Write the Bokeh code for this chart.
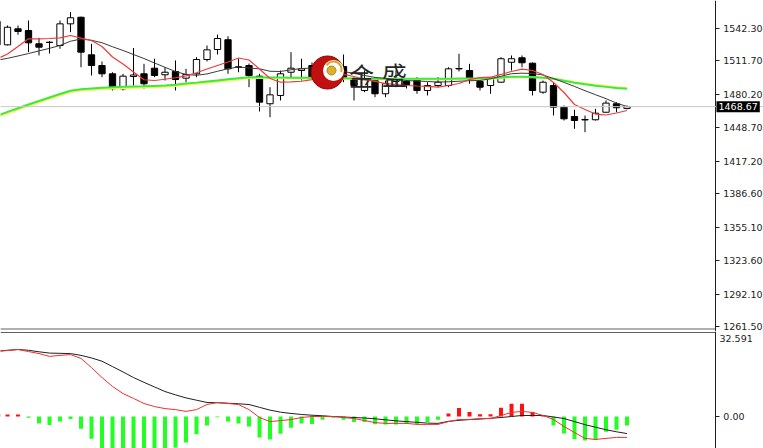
from bokeh.plotting import figure
from bokeh.layouts import column
from bokeh.models import FixedTicker, Range1d, Span, Label, PrintfTickFormatter, LinearAxis
from bokeh.core.properties import value
from bokeh.embed import file_html
from bokeh.resources import INLINE

# ---------------- data ----------------
# bar index -1 is the bar that is cut off at the left edge
bar = list(range(-1, 60))
open_ = [1527.0,
         1526.9, 1542.0, 1540.4, 1527.9, 1529.4, 1526.3, 1546.7, 1552.9, 1517.5, 1507.4,
         1499.6, 1485.5, 1497.1, 1499.6, 1504.9, 1498.7, 1501.8, 1495.5, 1499.6, 1513.1,
         1522.5, 1531.7, 1506.2, 1507.4, 1497.4, 1471.4, 1479.2, 1501.1, 1502.7, 1507.4,
         1497.1, 1502.7, 1506.5, 1494.0, 1483.9, 1493.3, 1480.8, 1492.4, 1492.4, 1494.0,
         1483.9, 1488.6, 1488.6, 1504.6, 1502.7, 1492.4, 1488.6, 1491.7, 1510.5, 1514.7,
         1509.6, 1482.3, 1488.6, 1468.2, 1459.4, 1456.6, 1456.3, 1463.4, 1471.4, 1467.0]
close = [1549.0,
         1543.5, 1539.5, 1528.8, 1524.7, 1529.1, 1546.7, 1552.4, 1520.0, 1507.4, 1499.6,
         1485.5, 1497.4, 1498.5, 1490.2, 1498.0, 1501.1, 1494.2, 1499.0, 1513.1, 1522.2,
         1532.9, 1504.3, 1505.6, 1498.0, 1472.9, 1479.8, 1499.6, 1504.9, 1504.3, 1496.4,
         1502.7, 1499.0, 1496.4, 1488.6, 1494.0, 1480.8, 1490.2, 1494.9, 1489.3, 1483.9,
         1488.6, 1491.7, 1504.3, 1504.2, 1495.2, 1487.0, 1495.5, 1513.8, 1513.8, 1510.0,
         1483.9, 1491.7, 1468.2, 1457.2, 1455.6, 1456.1, 1462.5, 1472.0, 1467.6, 1468.67]
high = [1551.0,
        1545.1, 1545.1, 1549.8, 1533.5, 1530.5, 1549.8, 1557.7, 1553.5, 1527.9, 1511.2,
        1501.1, 1499.6, 1523.9, 1509.0, 1513.8, 1505.8, 1512.2, 1504.3, 1515.3, 1526.3,
        1536.6, 1535.0, 1513.8, 1509.3, 1499.6, 1487.0, 1502.7, 1520.0, 1513.8, 1510.3,
        1509.3, 1510.3, 1517.8, 1496.4, 1502.7, 1496.4, 1493.3, 1502.7, 1495.2, 1496.4,
        1491.7, 1496.4, 1505.8, 1518.5, 1509.0, 1494.2, 1496.4, 1515.3, 1516.9, 1516.9,
        1510.3, 1493.3, 1491.7, 1469.8, 1465.7, 1460.3, 1466.6, 1474.5, 1472.9, 1469.8]
low = [1525.0,
       1526.3, 1536.4, 1520.0, 1516.9, 1518.7, 1523.2, 1538.8, 1505.8, 1498.0, 1496.4,
       1483.9, 1483.9, 1488.6, 1485.5, 1496.4, 1493.3, 1483.9, 1491.7, 1496.4, 1511.2,
       1517.8, 1499.6, 1501.1, 1487.0, 1464.1, 1458.7, 1474.5, 1496.4, 1493.3, 1495.2,
       1493.3, 1494.2, 1491.7, 1474.5, 1482.3, 1477.6, 1477.6, 1487.0, 1485.8, 1480.8,
       1479.2, 1487.0, 1487.0, 1501.8, 1490.2, 1483.9, 1480.8, 1491.1, 1502.7, 1505.8,
       1479.2, 1480.8, 1460.3, 1455.6, 1447.8, 1444.6, 1455.6, 1463.4, 1463.4, 1466.1]

ma_fast = [1513.6,
           1518.3, 1525.3, 1532.6, 1532.6, 1532.9, 1533.5, 1535.7, 1533.3, 1531.0, 1525.3,
           1515.4, 1508.9, 1501.3, 1494.0, 1493.3, 1494.5, 1495.9, 1497.7, 1500.6, 1504.1,
           1507.4, 1510.7, 1514.5, 1512.6, 1504.1, 1495.2, 1491.7, 1492.1, 1492.6, 1494.2,
           1497.1, 1498.0, 1499.0, 1497.1, 1494.2, 1492.4, 1490.5, 1489.5, 1488.6, 1488.1,
           1487.7, 1487.0, 1488.6, 1490.5, 1494.2, 1496.1, 1496.4, 1499.0, 1501.8, 1504.1,
           1502.7, 1499.0, 1491.4, 1482.0, 1470.7, 1466.0, 1461.7, 1460.8, 1462.7, 1465.0]
ma_mid = [1512.4,
          1514.2, 1516.4, 1518.7, 1521.2, 1523.6, 1526.3, 1530.3, 1532.4, 1531.2, 1528.9,
          1525.1, 1521.6, 1517.8, 1514.0, 1509.8, 1505.7, 1501.8, 1499.0, 1498.2, 1499.5,
          1502.0, 1504.4, 1506.0, 1505.1, 1504.3, 1502.0, 1501.8, 1503.4, 1504.6, 1505.0,
          1504.1, 1502.9, 1501.8, 1500.0, 1498.0, 1496.2, 1495.3, 1494.3, 1493.3, 1492.8,
          1492.4, 1491.8, 1492.1, 1492.6, 1493.1, 1493.3, 1494.9, 1497.3, 1499.7, 1500.2,
          1499.9, 1498.5, 1495.2, 1491.5, 1487.7, 1483.7, 1479.9, 1476.2, 1472.0, 1468.8]
ma_slow = [1460.0,
           1463.7, 1467.2, 1470.7, 1474.0, 1477.3, 1480.6, 1483.7, 1485.1, 1485.8, 1486.5,
           1486.9, 1487.3, 1487.7, 1487.9, 1488.2, 1488.5, 1489.3, 1490.4, 1491.3, 1492.4,
           1493.4, 1494.4, 1495.4, 1496.3, 1496.3, 1496.2, 1496.1, 1496.0, 1495.9, 1495.8,
           1495.7, 1495.5, 1495.4, 1495.2, 1495.0, 1494.9, 1494.9, 1494.9, 1494.9, 1494.9,
           1494.9, 1494.9, 1495.0, 1495.1, 1495.2, 1495.3, 1495.5, 1496.1, 1496.9, 1496.9,
           1496.6, 1496.0, 1494.9, 1493.0, 1491.2, 1489.7, 1488.4, 1487.3, 1486.2, 1485.6]
ma_slow2 = [1458.8,
            1462.5, 1466.0, 1469.5, 1472.8, 1476.1, 1479.4, 1482.5, 1483.9, 1484.6, 1485.3,
            1485.7, 1486.1, 1486.5, 1486.7, 1487.0, 1487.3, 1488.1, 1489.2, 1490.1, 1491.2,
            1492.2, 1493.2, 1494.2, 1495.6, 1495.7, 1495.6, 1495.5, 1495.4, 1495.3, 1495.2,
            1495.1, 1495.0, 1494.9, 1494.7, 1494.5, 1494.4, 1494.4, 1494.4, 1494.4, 1494.4,
            1494.4, 1494.4, 1494.5, 1494.6, 1494.7, 1494.8, 1495.0, 1495.6, 1496.4, 1496.4,
            1496.3, 1495.9, 1495.0, 1493.5, 1491.9, 1490.5, 1489.2, 1488.1, 1487.0, 1486.3]

macd_hist = [0.8,
             0.8, 0.8, -0.5, -2.7, -3.3, -2.0, -1.0, -4.8, -8.7, -14.0,
             -16.0, -17.0, -17.5, -17.0, -16.0, -14.5, -12.2, -10.2, -7.0, -3.5,
             -0.3, -2.0, -2.7, -3.9, -8.2, -9.0, -6.8, -4.4, -2.7, -2.9,
             -1.3, -0.5, -1.3, -2.2, -2.2, -3.0, -3.1, -3.1, -2.9, -2.9,
             -2.2, -1.3, 1.2, 3.3, 1.8, 0.9, 0.9, 3.4, 5.0, 5.0,
             1.8, 0.2, -3.5, -6.7, -8.8, -9.4, -9.2, -6.0, -5.2, -3.5]
macd_main = [25.6,
             25.9, 26.3, 25.5, 24.7, 23.6, 24.0, 24.3, 22.8, 19.2, 15.3,
             11.8, 9.0, 7.1, 5.1, 3.9, 3.1, 2.7, 2.0, 2.7, 4.7,
             5.5, 5.1, 4.7, 2.7, -0.4, -2.0, -1.6, -1.2, -0.4, 0.0,
             0.0, 0.0, -0.4, -0.8, -1.6, -2.4, -2.7, -2.7, -2.7, -3.1,
             -3.1, -3.1, -2.0, -1.2, -1.2, -0.8, -0.8, 0.4, 1.6, 2.0,
             1.6, 0.4, -1.2, -3.9, -6.3, -8.6, -9.0, -8.6, -8.2, -8.2]
macd_signal = [25.6,
               26.0, 26.3, 26.0, 25.4, 24.9, 24.8, 24.7, 24.0, 23.0, 21.7,
               19.6, 17.5, 15.3, 13.4, 11.6, 9.8, 8.5, 7.3, 6.4, 5.5,
               5.4, 5.2, 5.0, 4.7, 3.6, 2.5, 1.7, 1.2, 0.8, 0.5,
               0.3, 0.0, -0.2, -0.4, -0.6, -0.9, -1.3, -1.7, -2.0, -2.3,
               -2.6, -2.7, -1.9, -1.5, -1.2, -1.0, -0.7, -0.4, 0.0, 0.4,
               0.4, 0.4, -0.2, -0.8, -2.0, -3.2, -4.2, -5.2, -6.0, -6.7]

price_ticks = [1542.30, 1511.70, 1480.20, 1448.70, 1417.20, 1386.60, 1355.10, 1323.60, 1292.10, 1261.50]
last_price = 1468.67
macd_max_label = "32.591"
macd_ticks = [0.0]
logo_text = ["金", "盛"]

# ---------------- geometry helpers (image pixel -> data) ----------------
X0, DX = 7.0, 10.5


def xi(px):
    return (px - X0) / DX


def price_at(py):
    return 1542.3 - (py - 28) / 1.0613


def macd_at(py):
    return (416 - py) / 2.547


FONT = "DejaVu Sans"
FSIZE = "9.5px"
AXIS_X = xi(715)
common = dict(toolbar_location=None, output_backend="svg", tools="",
              x_axis_location=None, y_axis_location=None,
              min_border_left=0, min_border_top=0, min_border_bottom=0, min_border_right=0)

xr = Range1d(xi(0), xi(763))
p1 = figure(width=763, height=331, x_range=xr,
            y_range=Range1d(price_at(331), price_at(0)), **common)
p2 = figure(width=763, height=117, x_range=xr,
            y_range=Range1d(macd_at(448), macd_at(331)), **common)


def price_axis(ticks, standoff):
    # axis drawn at a fixed x; labels pushed to the right side of the line
    ax = LinearAxis(fixed_location=AXIS_X, ticker=FixedTicker(ticks=ticks),
                    formatter=PrintfTickFormatter(format="%.2f"))
    ax.axis_line_color = "#202020"
    ax.major_tick_line_color = "#202020"
    ax.major_tick_in = 4
    ax.major_tick_out = 0
    ax.minor_tick_line_color = None
    ax.major_label_standoff = standoff
    ax.major_label_text_font = FONT
    ax.major_label_text_font_size = FSIZE
    ax.major_label_text_color = "#222222"
    return ax


for p in (p1, p2):
    p.grid.visible = False
    p.outline_line_color = None
    p.background_fill_color = "white"
    p.border_fill_color = "white"

p1.add_layout(price_axis(price_ticks, -47), "left")
p2.add_layout(price_axis(macd_ticks, -29), "left")

# ---------------- main panel ----------------
p1.add_layout(Span(location=last_price, dimension="width", line_color="#c8c8c8", line_width=1))
p1.segment(x0=[xi(0)], x1=[AXIS_X], y0=[price_at(328.5)], y1=[price_at(328.5)],
           line_color="#606060", line_width=1)

up = [k for k in range(len(bar)) if close[k] >= open_[k]]
dn = [k for k in range(len(bar)) if close[k] < open_[k]]

p1.segment(x0=bar, x1=bar, y0=low, y1=high, line_color="black", line_width=1)
p1.vbar(x=[bar[k] for k in up], width=0.6, top=[close[k] for k in up], bottom=[open_[k] for k in up],
        fill_color="white", line_color="black", line_width=1)
p1.vbar(x=[bar[k] for k in dn], width=0.6, top=[open_[k] for k in dn], bottom=[close[k] for k in dn],
        fill_color="black", line_color="black", line_width=1)

p1.line(bar, ma_slow2, line_color="#f4f45a", line_width=2)
p1.line(bar, ma_slow, line_color="#3ee83e", line_width=2)
p1.line(bar, ma_mid, line_color="#3a3a3a", line_width=1)
p1.line(bar, ma_fast, line_color="#f03a3a", line_width=1.2)

# logo
lx, ly = 327, 72
p1.scatter([xi(lx)], [price_at(ly)], size=33, marker="circle", fill_color="#c01010", line_color="#9a0000")
p1.scatter([xi(lx + 6)], [price_at(ly - 2)], size=21, marker="circle", fill_color="white", line_color=None)
p1.arc(x=[xi(lx + 6)], y=[price_at(ly - 3)], radius=8, radius_units="screen",
       start_angle=-0.3, end_angle=2.6, line_color="#d4a82a", line_width=2)
p1.scatter([xi(lx + 4)], [price_at(ly - 2)], size=9, marker="circle", fill_color="#d9b030", line_color="#b08a10")
p1.text(x=[xi(361), xi(394)], y=[price_at(74), price_at(73)], text=logo_text,
        text_font=value("Noto Sans CJK SC"), text_font_size="25px", text_color="#262626",
        text_align="center", text_baseline="middle")

p1.add_layout(Label(x=xi(716), y=last_price, text="%.2f" % last_price, text_font=FONT, text_font_size=FSIZE,
                    text_color="white", background_fill_color="black", text_baseline="middle",
                    text_align="left", padding=2))

# ---------------- MACD panel ----------------
p2.segment(x0=[xi(0)], x1=[AXIS_X], y0=[macd_at(332)], y1=[macd_at(332)],
           line_color="#606060", line_width=1)
pos = [k for k in range(len(bar)) if macd_hist[k] >= 0]
neg = [k for k in range(len(bar)) if macd_hist[k] < 0]
p2.vbar(x=[bar[k] for k in pos], width=0.38, top=[macd_hist[k] for k in pos], bottom=0,
        fill_color="#ff1010", line_color=None)
p2.vbar(x=[bar[k] for k in neg], width=0.38, top=0, bottom=[macd_hist[k] for k in neg],
        fill_color="#22ff22", line_color=None)
p2.line(bar, macd_signal, line_color="#202020", line_width=1)
p2.line(bar, macd_main, line_color="#f03030", line_width=1)
p2.add_layout(Label(x=xi(719), y=macd_at(338), text=macd_max_label, text_font=FONT, text_font_size=FSIZE,
                    text_color="#222222", text_baseline="middle", text_align="left"))

layout = column(p1, p2, spacing=0)
open("out.html", "w").write(file_html(layout, INLINE))
